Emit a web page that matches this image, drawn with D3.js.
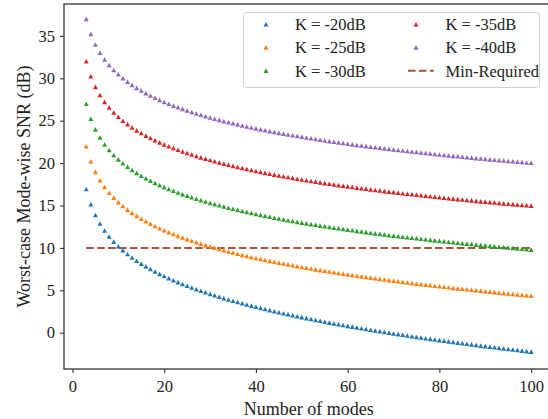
<!DOCTYPE html>
<html><head><meta charset="utf-8">
<script src="https://cdn.jsdelivr.net/npm/d3@7"></script>
<style>body{margin:0;background:#fff}svg{display:block}svg text{font-family:"Liberation Serif","Times New Roman",serif !important;fill:#222}</style>
</head><body>
<svg id="c" width="548" height="419"></svg>
<script>
const modes = d3.range(3, 101);
const k20 = [16.93,15.14,13.86,12.86,12.04,11.34,10.73,10.19,9.71,9.26,8.86,8.48,8.13,7.81,7.50,7.21,6.93,6.67,6.42,6.18,5.95,5.73,5.52,5.32,5.12,4.93,4.75,4.57,4.40,4.23,4.07,3.91,3.76,3.61,3.46,3.32,3.18,3.04,2.91,2.78,2.65,2.52,2.40,2.28,2.16,2.04,1.93,1.82,1.71,1.60,1.49,1.39,1.28,1.18,1.08,0.98,0.89,0.79,0.70,0.60,0.51,0.42,0.33,0.24,0.16,0.07,-0.02,-0.10,-0.18,-0.26,-0.35,-0.43,-0.51,-0.58,-0.66,-0.74,-0.81,-0.89,-0.96,-1.04,-1.11,-1.18,-1.25,-1.32,-1.39,-1.46,-1.53,-1.60,-1.66,-1.73,-1.80,-1.86,-1.93,-1.99,-2.06,-2.12,-2.18,-2.24];
const k25 = [21.97,20.21,18.95,17.97,17.17,16.50,15.91,15.39,14.93,14.50,14.12,13.76,13.43,13.13,12.84,12.57,12.31,12.07,11.84,11.62,11.41,11.21,11.02,10.84,10.66,10.49,10.32,10.16,10.01,9.86,9.71,9.57,9.44,9.30,9.17,9.05,8.92,8.80,8.69,8.57,8.46,8.35,8.25,8.14,8.04,7.94,7.84,7.74,7.65,7.56,7.46,7.37,7.29,7.20,7.11,7.03,6.95,6.87,6.79,6.71,6.63,6.56,6.48,6.41,6.33,6.26,6.19,6.12,6.05,5.98,5.91,5.85,5.78,5.72,5.65,5.59,5.53,5.46,5.40,5.34,5.28,5.22,5.17,5.11,5.05,4.99,4.94,4.88,4.83,4.77,4.72,4.66,4.61,4.56,4.51,4.46,4.40,4.35];
const k30 = [26.98,25.22,23.97,23.00,22.20,21.53,20.95,20.43,19.97,19.56,19.18,18.83,18.50,18.20,17.92,17.65,17.40,17.16,16.94,16.72,16.52,16.32,16.14,15.96,15.78,15.62,15.46,15.30,15.15,15.01,14.87,14.73,14.60,14.47,14.34,14.22,14.10,13.99,13.88,13.77,13.66,13.55,13.45,13.35,13.25,13.16,13.06,12.97,12.88,12.79,12.71,12.62,12.54,12.46,12.37,12.30,12.22,12.14,12.07,11.99,11.92,11.85,11.77,11.70,11.64,11.57,11.50,11.44,11.37,11.31,11.24,11.18,11.12,11.06,11.00,10.94,10.88,10.82,10.77,10.71,10.65,10.60,10.54,10.49,10.44,10.38,10.33,10.28,10.23,10.18,10.13,10.08,10.03,9.98,9.93,9.89,9.84,9.79];
const k35 = [31.99,30.23,28.98,28.01,27.21,26.54,25.96,25.45,24.99,24.58,24.20,23.85,23.53,23.23,22.95,22.68,22.43,22.20,21.97,21.76,21.56,21.36,21.18,21.00,20.83,20.66,20.51,20.35,20.20,20.06,19.92,19.79,19.66,19.53,19.41,19.29,19.17,19.06,18.95,18.84,18.73,18.63,18.53,18.43,18.34,18.24,18.15,18.06,17.97,17.88,17.80,17.71,17.63,17.55,17.47,17.39,17.32,17.24,17.17,17.10,17.03,16.96,16.89,16.82,16.75,16.68,16.62,16.56,16.49,16.43,16.37,16.31,16.25,16.19,16.13,16.07,16.02,15.96,15.90,15.85,15.80,15.74,15.69,15.64,15.59,15.53,15.48,15.43,15.38,15.34,15.29,15.24,15.19,15.15,15.10,15.05,15.01,14.96];
const k40 = [36.99,35.23,33.98,33.01,32.22,31.55,30.97,30.46,30.00,29.58,29.21,28.86,28.54,28.24,27.95,27.69,27.44,27.21,26.98,26.77,26.57,26.38,26.19,26.01,25.84,25.68,25.52,25.37,25.22,25.08,24.94,24.81,24.68,24.55,24.43,24.31,24.19,24.08,23.97,23.86,23.76,23.65,23.55,23.46,23.36,23.27,23.18,23.09,23.00,22.91,22.83,22.74,22.66,22.58,22.50,22.43,22.35,22.28,22.20,22.13,22.06,21.99,21.92,21.85,21.79,21.72,21.66,21.59,21.53,21.47,21.41,21.35,21.29,21.23,21.17,21.12,21.06,21.00,20.95,20.89,20.84,20.79,20.74,20.68,20.63,20.58,20.53,20.48,20.43,20.39,20.34,20.29,20.24,20.20,20.15,20.11,20.06,20.02];
const minRequired = 10;
const seriesNames = ["K = -20dB","K = -25dB","K = -30dB","K = -35dB","K = -40dB"];
const seriesValues = [k20, k25, k30, k35, k40];
const seriesColors = ["#1f77b4","#ff7f0e","#2ca02c","#d62728","#9467bd"];
const lineName = "Min-Required";
const lineColor = "#a9533a";
const xTicks = [0,20,40,60,80,100];
const yTicks = [0,5,10,15,20,25,30,35];
const xLabel = "Number of modes";
const yLabel = "Worst-case Mode-wise SNR (dB)";

const svg = d3.select("#c");
const L = 64, R = 553.4, T = 4, B = 369;
const x = d3.scaleLinear().domain([-1.85, 104.85]).range([L, R]);
const y = d3.scaleLinear().domain([-4.28, 38.76]).range([B, T]);
const tri = "M0,-2.4L2.5,2.2L-2.5,2.2Z";

svg.append("line")
  .attr("x1", x(modes[0])).attr("x2", x(modes[modes.length-1]))
  .attr("y1", y(minRequired)).attr("y2", y(minRequired))
  .attr("stroke", lineColor).attr("stroke-width", 2).attr("stroke-dasharray", "7.6,3.3");

seriesValues.forEach((vals, i) => {
  svg.append("g").selectAll("path").data(vals).join("path")
    .attr("d", tri)
    .attr("transform", (d, j) => `translate(${x(modes[j])},${y(d)})`)
    .attr("fill", seriesColors[i]);
});

const xAxis = svg.append("g").attr("transform", `translate(0,${B})`)
  .call(d3.axisBottom(x).tickValues(xTicks).tickSize(4).tickPadding(4));
const yAxis = svg.append("g").attr("transform", `translate(${L},0)`)
  .call(d3.axisLeft(y).tickValues(yTicks).tickSize(4).tickPadding(5));
[xAxis, yAxis].forEach(a => {
  a.attr("font-family", '"Liberation Serif", serif').attr("font-size", 16.5);
  a.select(".domain").remove();
  a.selectAll("line").attr("stroke", "#333").attr("stroke-width", 1.1);
  a.selectAll("text").style("font-size", "16.5px").attr("fill", "#222");
});
xAxis.selectAll("text").attr("dy", "0.9em");
svg.append("rect").attr("x", L).attr("y", T).attr("width", R - L).attr("height", B - T)
  .attr("fill", "none").attr("stroke", "#333").attr("stroke-width", 1.3);

svg.append("text").attr("x", (L + R) / 2).attr("y", 415).attr("text-anchor", "middle")
  .style("font-size", "18px").text(xLabel);
svg.append("text").attr("transform", `translate(30,${(T + B) / 2}) rotate(-90)`)
  .attr("text-anchor", "middle").style("font-size", "18px").text(yLabel);

const lg = svg.append("g");
lg.append("rect").attr("x", 243.5).attr("y", 12.5).attr("width", 296).attr("height", 75)
  .attr("rx", 3).attr("fill", "#fff").attr("fill-opacity", 0.85)
  .attr("stroke", "#d0d0d0").attr("stroke-width", 1);
const rows = [24.3, 47.5, 70.7];
const items = seriesNames.map((n, i) => ({name: n, color: seriesColors[i], type: "m"}));
items.push({name: lineName, color: lineColor, type: "l"});
items.forEach((it, i) => {
  const col = i < 3 ? 0 : 1, row = i % 3;
  const mx = col === 0 ? 266 : 416, tx = col === 0 ? 295 : 445.5;
  const cy = rows[row];
  if (it.type === "m") {
    lg.append("path").attr("d", tri).attr("transform", `translate(${mx},${cy})`).attr("fill", it.color);
  } else {
    lg.append("line").attr("x1", 408).attr("x2", 434).attr("y1", cy).attr("y2", cy)
      .attr("stroke", it.color).attr("stroke-width", 2).attr("stroke-dasharray", "7.6,3.3");
  }
  lg.append("text").attr("x", tx).attr("y", cy + 5.8).style("font-size", "16.5px").text(it.name);
});
</script>
</body></html>
